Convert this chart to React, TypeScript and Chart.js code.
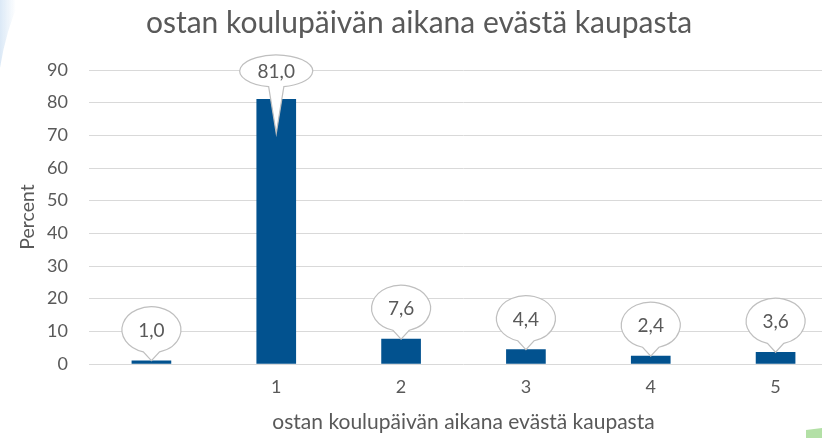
import React, { useEffect, useRef } from "react";
import { Chart, registerables } from "chart.js";

Chart.register(...registerables);

const categories: string[] = ["", "1", "2", "3", "4", "5"];
const percents: number[] = [1.0, 81.0, 7.6, 4.4, 2.4, 3.6];
const chartTitle = "ostan koulupäivän aikana evästä kaupasta";
const xTitle = "ostan koulupäivän aikana evästä kaupasta";
const yTitle = "Percent";
const yMin = 0;
const yMax = 90;
const yStep = 10;

const FONT = "Lato";
const TEXT = "#595959";

const fmt = (v: number) => v.toFixed(1).replace(".", ",");

const decorPlugin = {
  id: "decor",
  beforeDraw(chart: any) {
    const ctx = chart.ctx;
    ctx.save();
    const g = ctx.createLinearGradient(0, 0, 16, 0);
    g.addColorStop(0, "rgba(190,215,240,0.55)");
    g.addColorStop(1, "rgba(190,215,240,0)");
    ctx.fillStyle = g;
    ctx.beginPath();
    ctx.moveTo(0, 0);
    ctx.lineTo(20, 0);
    ctx.quadraticCurveTo(6, 30, 0, 68);
    ctx.closePath();
    ctx.fill();
    ctx.fillStyle = "#b3e0a6";
    ctx.beginPath();
    ctx.moveTo(806, 430);
    ctx.lineTo(822, 428);
    ctx.lineTo(822, 438);
    ctx.lineTo(806, 438);
    ctx.closePath();
    ctx.fill();
    ctx.restore();
  },
};

const bubblePlugin = {
  id: "bubbles",
  afterDatasetsDraw(chart: any) {
    const ctx = chart.ctx;
    const meta = chart.getDatasetMeta(0);
    const area = chart.chartArea;
    ctx.save();
    meta.data.forEach((bar: any, i: number) => {
      const v = chart.data.datasets[0].data[i] as number;
      const x = bar.x;
      const top = bar.y;
      let rx = 29.5;
      let ry = 23;
      let cy = top - 31;
      let tip = top;
      let delta = 0.28;
      if (cy - ry < area.top - 20) {
        rx = 36.5;
        ry = 16;
        cy = area.top + 1;
        tip = top + 34;
        delta = 0.21;
      }
      ctx.beginPath();
      ctx.ellipse(x, cy, rx, ry, 0, Math.PI / 2 + delta, Math.PI * 2 + Math.PI / 2 - delta);
      ctx.lineTo(x, tip);
      ctx.closePath();
      ctx.fillStyle = "#ffffff";
      ctx.fill();
      ctx.strokeStyle = "#bfbfbf";
      ctx.lineWidth = 1.2;
      ctx.stroke();
      ctx.fillStyle = TEXT;
      ctx.font = `19px ${FONT}`;
      ctx.textAlign = "center";
      ctx.textBaseline = "middle";
      ctx.fillText(fmt(v), x, cy + 1);
    });
    ctx.restore();
  },
};

export default function App() {
  const ref = useRef<HTMLCanvasElement | null>(null);
  useEffect(() => {
    if (!ref.current) return;
    const chart = new Chart(ref.current, {
      type: "bar",
      data: {
        labels: categories,
        datasets: [
          {
            data: percents,
            backgroundColor: "#02528f",
            barThickness: 39,
          },
        ],
      },
      options: {
        animation: false,
        responsive: false,
        devicePixelRatio: 1,
        layout: { padding: 0 },
        plugins: {
          legend: { display: false },
          tooltip: { enabled: false },
          title: {
            display: true,
            text: chartTitle,
            color: TEXT,
            font: { family: FONT, size: 30, weight: "normal", lineHeight: 1.2 },
            padding: { top: 5, bottom: 29 },
          },
        },
        scales: {
          x: {
            grid: { display: false, drawTicks: false },
            border: { display: false },
            ticks: {
              color: TEXT,
              font: { family: FONT, size: 18 },
              padding: 12,
            },
            title: {
              display: true,
              text: xTitle,
              color: TEXT,
              font: { family: FONT, size: 21, lineHeight: 1.2 },
              padding: { top: 0, bottom: 3 },
            },
            afterFit: (s: any) => {
              s.height = 74;
            },
          },
          y: {
            min: yMin,
            max: yMax,
            grid: { color: "#d9d9d9", drawTicks: false, lineWidth: 1 },
            border: { display: false },
            ticks: {
              stepSize: yStep,
              color: TEXT,
              font: { family: FONT, size: 18 },
              padding: 21,
            },
            title: {
              display: true,
              text: yTitle,
              color: TEXT,
              font: { family: FONT, size: 19.5, lineHeight: 1.2 },
              padding: { top: 16, bottom: 0 },
            },
            afterFit: (s: any) => {
              s.width = 89;
            },
          },
        },
      },
      plugins: [decorPlugin, bubblePlugin],
    });
    return () => chart.destroy();
  }, []);
  return (
    <div
      style={{
        position: "absolute",
        left: 0,
        top: 0,
        width: 822,
        height: 438,
        overflow: "hidden",
        background: "#ffffff",
      }}
    >
      <canvas ref={ref} width={838} height={438} style={{ display: "block" }} />
    </div>
  );
}
